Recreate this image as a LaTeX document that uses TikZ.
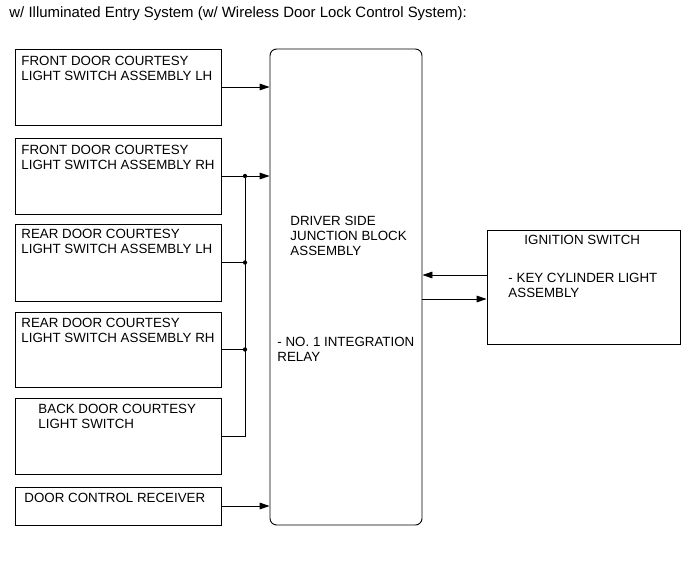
\documentclass[tikz,border=0pt]{standalone}
\usepackage{fontspec}
\setmainfont{Liberation Sans}
\usetikzlibrary{fit,arrows.meta}

\begin{document}
\begin{tikzpicture}[x=0.75pt, y=-0.75pt, line width=0.7pt,
    every node/.style={font=\fontsize{10}{11.25}\selectfont},
    box/.style={draw, inner sep=0pt},
    txt/.style={anchor=north west, inner sep=0pt, align=left},
    arr/.style={-{Triangle[length=7.5pt,width=5pt]}}]
  \useasboundingbox (0,0) rectangle (691,564);
  \node[anchor=base west, inner sep=0pt, font=\fontsize{11.2}{13}\selectfont] (T) at (9,17.5)
      {w/ Illuminated Entry System (w/ Wireless Door Lock Control System):};
  % switches on the left
  \node[box, fit={(15,49) (221,125)}] (FL) {};
  \node[box, fit={(15,138) (221,214)}] (FR) {};
  \node[box, fit={(15,224) (221,301)}] (RL) {};
  \node[box, fit={(15,312) (221,387)}] (RR) {};
  \node[box, fit={(15,398) (221,474)}] (BD) {};
  \node[box, fit={(15,487) (221,525)}] (DC) {};
  \node[txt] (FLt) at (21,55.5) {FRONT DOOR COURTESY\\LIGHT SWITCH ASSEMBLY LH};
  \node[txt] (FRt) at (21,144.5) {FRONT DOOR COURTESY\\LIGHT SWITCH ASSEMBLY RH};
  \node[txt] (RLt) at (21,228.5) {REAR DOOR COURTESY\\LIGHT SWITCH ASSEMBLY LH};
  \node[txt] (RRt) at (21,317.5) {REAR DOOR COURTESY\\LIGHT SWITCH ASSEMBLY RH};
  \node[txt] (BDt) at (38,403.5) {BACK DOOR COURTESY\\LIGHT SWITCH};
  \node[txt] (DCt) at (24,492.5) {DOOR CONTROL RECEIVER};
  % junction block and ignition switch
  \node[box, rounded corners=5pt, fit={(270,49) (422,525)}] (JB) {};
  \node[txt] (JBt) at (290,215.5) {DRIVER SIDE\\JUNCTION BLOCK\\ASSEMBLY};
  \node[txt] (JBr) at (277,336.5) {- NO. 1 INTEGRATION\\RELAY};
  \node[box, fit={(487,230) (680,344)}] (IG) {};
  \node[txt] (IGt) at (524,234.5) {IGNITION SWITCH};
  \node[txt] (IGk) at (508,272.5) {- KEY CYLINDER LIGHT\\ASSEMBLY};
  \coordinate (bus) at (245,0);
  \coordinate (ig1) at ([yshift=9pt]IG.west);
  \coordinate (ig2) at ([yshift=-9pt]IG.west);
  % wiring
  \draw[arr] (FL.east) -- (FL.east -| JB.west);
  \draw[arr] (FR.east) -- (FR.east -| JB.west);
  \draw (FR.east -| bus) -- (BD.east -| bus) -- (BD.east);
  \draw (RL.east) -- (RL.east -| bus);
  \draw (RR.east) -- (RR.east -| bus);
  \foreach \n in {FR,RL,RR}
    \fill (\n.east -| bus) circle[radius=1.6pt];
  \draw[arr] (DC.east) -- (DC.east -| JB.west);
  \draw[arr] (ig1) -- (ig1 -| JB.east);
  \draw[arr] (ig2 -| JB.east) -- (ig2);
\end{tikzpicture}
\end{document}
